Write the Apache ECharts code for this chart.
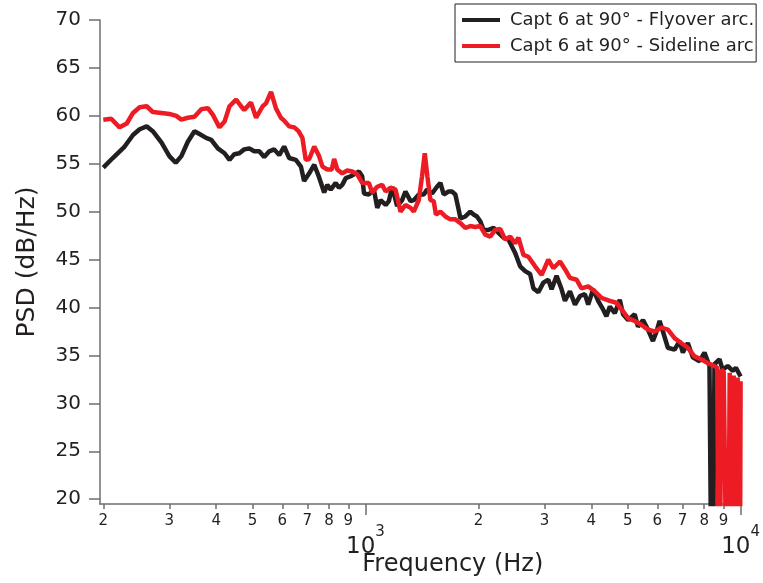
<!DOCTYPE html>
<html>
<head>
<meta charset="utf-8">
<script src="https://cdn.jsdelivr.net/npm/echarts@6/dist/echarts.min.js"></script>
<style>
html,body{margin:0;padding:0;background:#fff;}
#chart{width:763px;height:583px;}
</style>
</head>
<body>
<div id="chart"></div>
<script>
// ---- data ----
var seriesNames = ['Capt 6 at 90° - Flyover arc.', 'Capt 6 at 90° - Sideline arc'];
var flyFreq = [200,212,228,240,250,261,271,286,300,312,323,336,350,361,376,388,404,421,434,447,461,475,490,505,521,537,554,571,589,607,626,652,673,686,708,730,752,776,791,808,833,850,867,886,913,942,961,980,991,1021,1053,1075,1097,1132,1154,1178,1214,1252,1278,1319,1345,1387,1430,1459,1505,1551,1584,1616,1666,1700,1736,1772,1791,1846,1903,1942,1982,2023,2064,2128,2195,2263,2333,2406,2455,2506,2584,2665,2747,2803,2890,2980,3072,3135,3232,3333,3402,3508,3618,3730,3845,3924,4045,4171,4300,4388,4481,4620,4764,4860,5011,5221,5327,5493,5663,5839,5958,6084,6208,6400,6668,6875,7016,7233,7458,7771,8012,8261,8403,8518,8782,8961,9239,9526,9720,10000];
var flyDb = [54.6,55.6,56.8,58.0,58.6,58.9,58.4,57.2,55.8,55.1,55.8,57.3,58.4,58.1,57.7,57.5,56.6,56.1,55.4,56.0,56.1,56.5,56.6,56.3,56.3,55.7,56.3,56.5,55.9,56.8,55.6,55.4,54.7,53.2,54.0,54.9,53.6,52.0,52.8,52.3,53.0,52.5,52.8,53.5,53.7,54.0,54.2,53.7,51.9,51.8,52.3,50.4,51.2,50.7,51.1,52.6,50.6,51.2,52.1,51.1,51.2,51.8,51.8,52.3,51.9,52.6,53.0,51.8,52.1,52.1,51.8,50.2,49.3,49.5,50.0,49.7,49.5,49.0,48.1,48.1,48.3,47.8,47.3,47.1,46.4,45.7,44.3,43.8,43.5,42.0,41.6,42.6,42.9,41.9,43.3,41.9,40.7,41.7,40.3,41.2,41.4,40.3,41.9,40.7,39.8,39.1,40.1,39.4,40.8,39.3,38.7,39.3,38.0,38.7,37.7,36.5,37.4,38.6,37.5,35.8,35.6,36.5,35.3,36.3,34.8,34.4,35.3,33.9,0,34.1,34.6,33.5,33.9,33.4,33.7,32.8];
var sideFreq = [200,210,221,231,240,250,261,271,286,300,313,323,336,350,365,380,392,408,421,434,452,466,475,495,511,532,543,560,577,595,607,626,646,663,679,693,708,730,752,768,791,813,825,841,867,894,922,951,980,1021,1042,1075,1108,1132,1166,1203,1240,1278,1319,1345,1387,1415,1439,1462,1490,1520,1541,1584,1633,1683,1736,1791,1846,1903,1962,2023,2086,2150,2218,2287,2357,2431,2506,2557,2637,2718,2832,2949,3072,3167,3300,3402,3508,3653,3766,3924,4087,4256,4481,4665,4860,5011,5221,5436,5663,5900,6144,6400,6668,6943,7233,7536,7847,8175,8518,8665,8771,8880,9016,9239,9353,9467,9584,9702,9822,9943,10000];
var sideDb = [59.6,59.7,58.8,59.2,60.3,60.9,61.0,60.4,60.3,60.2,60.0,59.6,59.8,59.9,60.7,60.8,60.1,58.8,59.4,61.0,61.7,61.0,60.6,61.4,59.8,61.0,61.3,62.5,60.8,59.8,59.5,58.9,58.8,58.4,57.7,55.4,55.5,56.8,55.8,54.7,54.4,54.4,55.5,54.4,54.0,54.3,54.2,53.9,53.0,53.0,52.0,52.6,52.8,52.1,52.5,52.3,50.0,50.7,50.4,50.0,51.2,53.7,56.1,53.7,51.2,51.1,49.7,50.0,49.5,49.2,49.2,48.8,48.3,48.5,48.4,48.5,47.6,47.4,48.1,48.2,47.1,47.4,46.7,47.3,45.5,45.3,44.3,43.4,45.0,44.1,44.8,44.0,43.1,42.9,42.0,42.2,41.7,41.0,40.7,40.5,39.6,38.9,38.6,38.2,37.7,37.5,37.9,37.7,36.8,36.3,35.8,34.9,34.6,34.2,33.9,33.7,0,33.5,33.3,0,33.2,0,32.9,0,32.7,0,32.3];
var yTicks = [20,25,30,35,40,45,50,55,60,65,70];
var xMinorTicks = [200,300,400,500,600,700,800,900,2000,3000,4000,5000,6000,7000,8000,9000];
var xMajorTicks = [1000,10000];

function pairs(xs, ys){ var out=[]; for(var i=0;i<xs.length;i++) out.push([xs[i], ys[i]]); return out; }

var AX = '#6d6e71', TXT = '#231f20', FONT = 'DejaVu Sans';
var chart = echarts.init(document.getElementById('chart'), null, {renderer:'canvas'});
chart.setOption({
  animation:false,
  backgroundColor:'#ffffff',
  textStyle:{fontFamily:FONT, color:TXT},
  grid:{left:100, right:19.7, top:20, bottom:79, containLabel:false},
  legend:{
    orient:'vertical', left:455, top:4,
    padding:[7,2,7,7], itemGap:8,
    borderColor:TXT, borderWidth:1, backgroundColor:'#fff',
    icon:'rect', itemWidth:38, itemHeight:4,
    textStyle:{fontFamily:FONT, fontSize:18, color:TXT, lineHeight:18, padding:[0,0,0,5]},
    data:seriesNames
  },
  xAxis:[{
    type:'log', logBase:10, min:196, max:10000,
    name:'Frequency (Hz)', nameLocation:'middle', nameGap:49,
    nameTextStyle:{fontFamily:FONT, fontSize:24, color:TXT, padding:[0,0,0,65]},
    axisLine:{show:true, onZero:false, lineStyle:{color:AX, width:1.5}},
    axisTick:{show:true, customValues:xMinorTicks, length:5, lineStyle:{color:AX, width:1.5}},
    axisLabel:{show:true, customValues:xMinorTicks, margin:10, fontSize:15, color:TXT,
      formatter:function(v){ var e=Math.floor(Math.log10(v)+1e-9); return String(Math.round(v/Math.pow(10,e))); }},
    splitLine:{show:false}, minorTick:{show:false}
  },{
    type:'log', logBase:10, min:196, max:10000, position:'bottom',
    axisLine:{show:false, onZero:false},
    axisTick:{show:true, customValues:xMajorTicks, length:11, lineStyle:{color:AX, width:1.5}},
    axisLabel:{show:true, customValues:xMajorTicks, margin:21, color:TXT,
      formatter:function(v){ var e=Math.round(Math.log10(v)); return '{a|10}{b|'+e+'}{c|\u200b}'; },
      rich:{
        a:{fontFamily:FONT, fontSize:23, lineHeight:24, verticalAlign:'bottom', color:TXT},
        b:{fontFamily:FONT, fontSize:15, lineHeight:16, verticalAlign:'top', color:TXT},
        c:{fontFamily:FONT, fontSize:1, lineHeight:34, verticalAlign:'top'}
      }},
    splitLine:{show:false}, minorTick:{show:false}
  }],
  yAxis:{
    type:'value', min:19.5, max:70,
    name:'PSD (dB/Hz)', nameLocation:'middle', nameGap:60, nameRotate:90,
    nameTextStyle:{fontFamily:FONT, fontSize:25, color:TXT},
    axisLine:{show:true, lineStyle:{color:AX, width:1.5}},
    axisTick:{show:true, customValues:yTicks, length:11, lineStyle:{color:AX, width:1.5}},
    axisLabel:{show:true, customValues:yTicks, margin:19, fontSize:20, color:TXT},
    splitLine:{show:false}
  },
  series:[{
    name:seriesNames[0], type:'line', xAxisIndex:0, showSymbol:false, symbol:'none',
    clip:true, color:'#231f20', lineStyle:{color:'#231f20', width:4.5},
    data:pairs(flyFreq, flyDb)
  },{
    name:seriesNames[1], type:'line', xAxisIndex:0, showSymbol:false, symbol:'none',
    clip:true, color:'#ed1c24', lineStyle:{color:'#ed1c24', width:4.5},
    data:pairs(sideFreq, sideDb)
  }]
});
</script>
</body>
</html>
